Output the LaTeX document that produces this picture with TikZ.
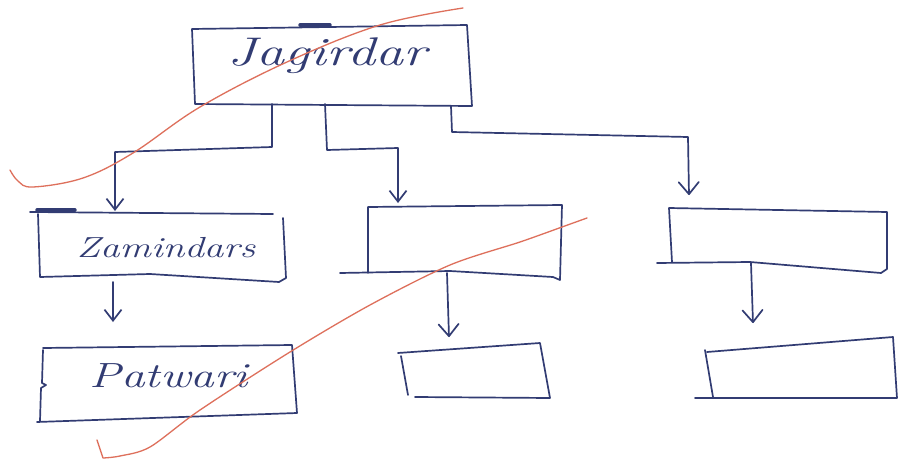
\documentclass[tikz,border=0pt]{standalone}
\usepackage{graphicx}
\usetikzlibrary{arrows.meta}
\definecolor{ink}{RGB}{50,60,115}
\definecolor{redpen}{RGB}{222,112,92}

\begin{document}
\begin{tikzpicture}[x=1pt,y=-1pt,
  pen/.style={draw=ink, line width=1.7pt, line cap=round, line join=round},
  link/.style={pen, -{Straight Barb[length=11pt,width=17pt]}},
  linku/.style={pen, -{Straight Barb[length=12pt,width=20pt,round]}},
  frame/.style={inner sep=0pt, outer sep=0pt, draw=none},
  word/.style={text=ink, inner sep=0pt, anchor=base},
  strike/.style={draw=redpen, line width=1.3pt, line cap=round, line join=round}]

\fill[white] (0,0) rectangle (898,463);
\useasboundingbox (0,0) rectangle (898,463);

% box frames (outlines are sketched by hand below)
\node[frame, minimum width=278pt, minimum height=78pt] (jag)    at (332,65)  {};
\node[frame, minimum width=246pt, minimum height=66pt] (zam)    at (162,246) {};
\node[frame, minimum width=194pt, minimum height=66pt] (mida)   at (465,240) {};
\node[frame, minimum width=216pt, minimum height=56pt] (righta) at (778,237) {};
\node[frame, minimum width=254pt, minimum height=72pt] (pat)    at (168,383) {};
\node[frame, minimum width=150pt, minimum height=54pt] (midb)   at (475,371) {};
\node[frame, minimum width=190pt, minimum height=60pt] (rightb) at (801,369) {};

% labels
\node[word, font=\fontsize{40}{40}\selectfont\itshape] (tjag) at (327,65)  {\scalebox{1.4}[1]{Jagirdar}};
\node[word, font=\fontsize{29}{29}\selectfont\itshape] (tzam) at (166,257) {\scalebox{1.35}[1]{Zamindars}};
\node[word, font=\fontsize{35}{35}\selectfont\itshape] (tpat) at (169,387) {\scalebox{1.35}[1]{Patwari}};

% Jagirdar
\draw[pen] ([shift={(-1,3)}]jag.north west) -- ([shift={(-4,-1)}]jag.north east)
  -- ([shift={(1,2)}]jag.south east) -- ([shift={(2,0)}]jag.south west) -- cycle;
\draw[pen, line width=3.4pt] ([shift={(107,-1)}]jag.north west) -- ([shift={(137,-1)}]jag.north west);

% Zamindars
\draw[pen] ([shift={(-9,-1)}]zam.north west) -- ([shift={(-12,1)}]zam.north east);
\draw[pen] ([shift={(-2,5)}]zam.north east) -- ([shift={(1,-1)}]zam.south east)
  -- ([shift={(-6,3)}]zam.south east) -- ([shift={(111,-5)}]zam.south west)
  -- ([shift={(1,-2)}]zam.south west) -- ([shift={(-1,1)}]zam.north west);
\draw[pen, line width=3.4pt] ([shift={(-2,-3)}]zam.north west) -- ([shift={(36,-3)}]zam.north west);

% second box, middle row
\draw[pen] (mida.south west) -- (mida.north west) -- ([shift={(0,-2)}]mida.north east)
  -- ([shift={(-2,7)}]mida.south east) -- ([shift={(-9,4)}]mida.south east)
  -- ([shift={(82,-2)}]mida.south west) -- ([shift={(-28,0)}]mida.south west);

% third box, middle row
\draw[pen] ([shift={(2,-3)}]righta.south west) -- ([shift={(-1,-1)}]righta.north west)
  -- ([shift={(1,3)}]righta.north east) -- ([shift={(1,4)}]righta.south east)
  -- ([shift={(-5,8)}]righta.south east) -- ([shift={(80,-3)}]righta.south west)
  -- ([shift={(-13,-2)}]righta.south west);

% Patwari
\draw[pen] ([shift={(2,1)}]pat.north west) -- ([shift={(-3,-2)}]pat.north east)
  -- ([shift={(2,-6)}]pat.south east) -- ([shift={(-4,3)}]pat.south west);
\draw[pen] ([shift={(2,3)}]pat.north west) -- ([shift={(1,36)}]pat.north west)
  -- ([shift={(5,38)}]pat.north west) -- ([shift={(0,41)}]pat.north west)
  -- ([shift={(-1,2)}]pat.south west);

% lower middle box
\draw[pen] ([shift={(-2,9)}]midb.north west) -- ([shift={(-10,-1)}]midb.north east)
  -- (midb.south east) -- ([shift={(15,-1)}]midb.south west);
\draw[pen] ([shift={(1,12)}]midb.north west) -- ([shift={(8,-3)}]midb.south west);

% lower right box
\draw[pen] ([shift={(1,13)}]rightb.north west) -- ([shift={(-3,-2)}]rightb.north east)
  -- ([shift={(1,-1)}]rightb.south east) -- ([shift={(-11,-1)}]rightb.south west);
\draw[pen] ([shift={(-1,11)}]rightb.north west) -- ([shift={(7,-2)}]rightb.south west);

% connectors
\draw[link] ([shift={(79,0)}]jag.south west) -- ++(0,43)
  -- ([shift={(76,-61)}]zam.north west) -- ([shift={(76,-2)}]zam.north west);
\draw[link] ([shift={(132,0)}]jag.south west) -- ++(2,46)
  -- ([shift={(30,-59)}]mida.north west) -- ([shift={(30,-4)}]mida.north west);
\draw[linku] ([shift={(-20,2)}]jag.south east) -- ++(1,26)
  -- ([shift={(18,-72)}]righta.north west) -- ([shift={(19,-14)}]righta.north west);
\draw[link] ([shift={(74,3)}]zam.south west) -- ([shift={(72,-25)}]pat.north west);
\draw[linku] ([shift={(79,0)}]mida.south west) -- ([shift={(49,-7)}]midb.north west);
\draw[linku] ([shift={(81,-2)}]righta.south west) -- ([shift={(47,-16)}]rightb.north west);

% red strike-through lines
\draw[strike] plot[smooth, tension=0.6] coordinates {(10,170) (18,181) (33,187) (83,178) (133,153)
  (200,107) (287,62) (380,25) (463,8)};
\draw[strike] plot[smooth, tension=0.5] coordinates {(587,218) (562,227) (520,242) (450,265)
  (370,305) (290,352) (200,410) (150,447) (120,456) (103,458)} -- (97,440);
\end{tikzpicture}
\end{document}
